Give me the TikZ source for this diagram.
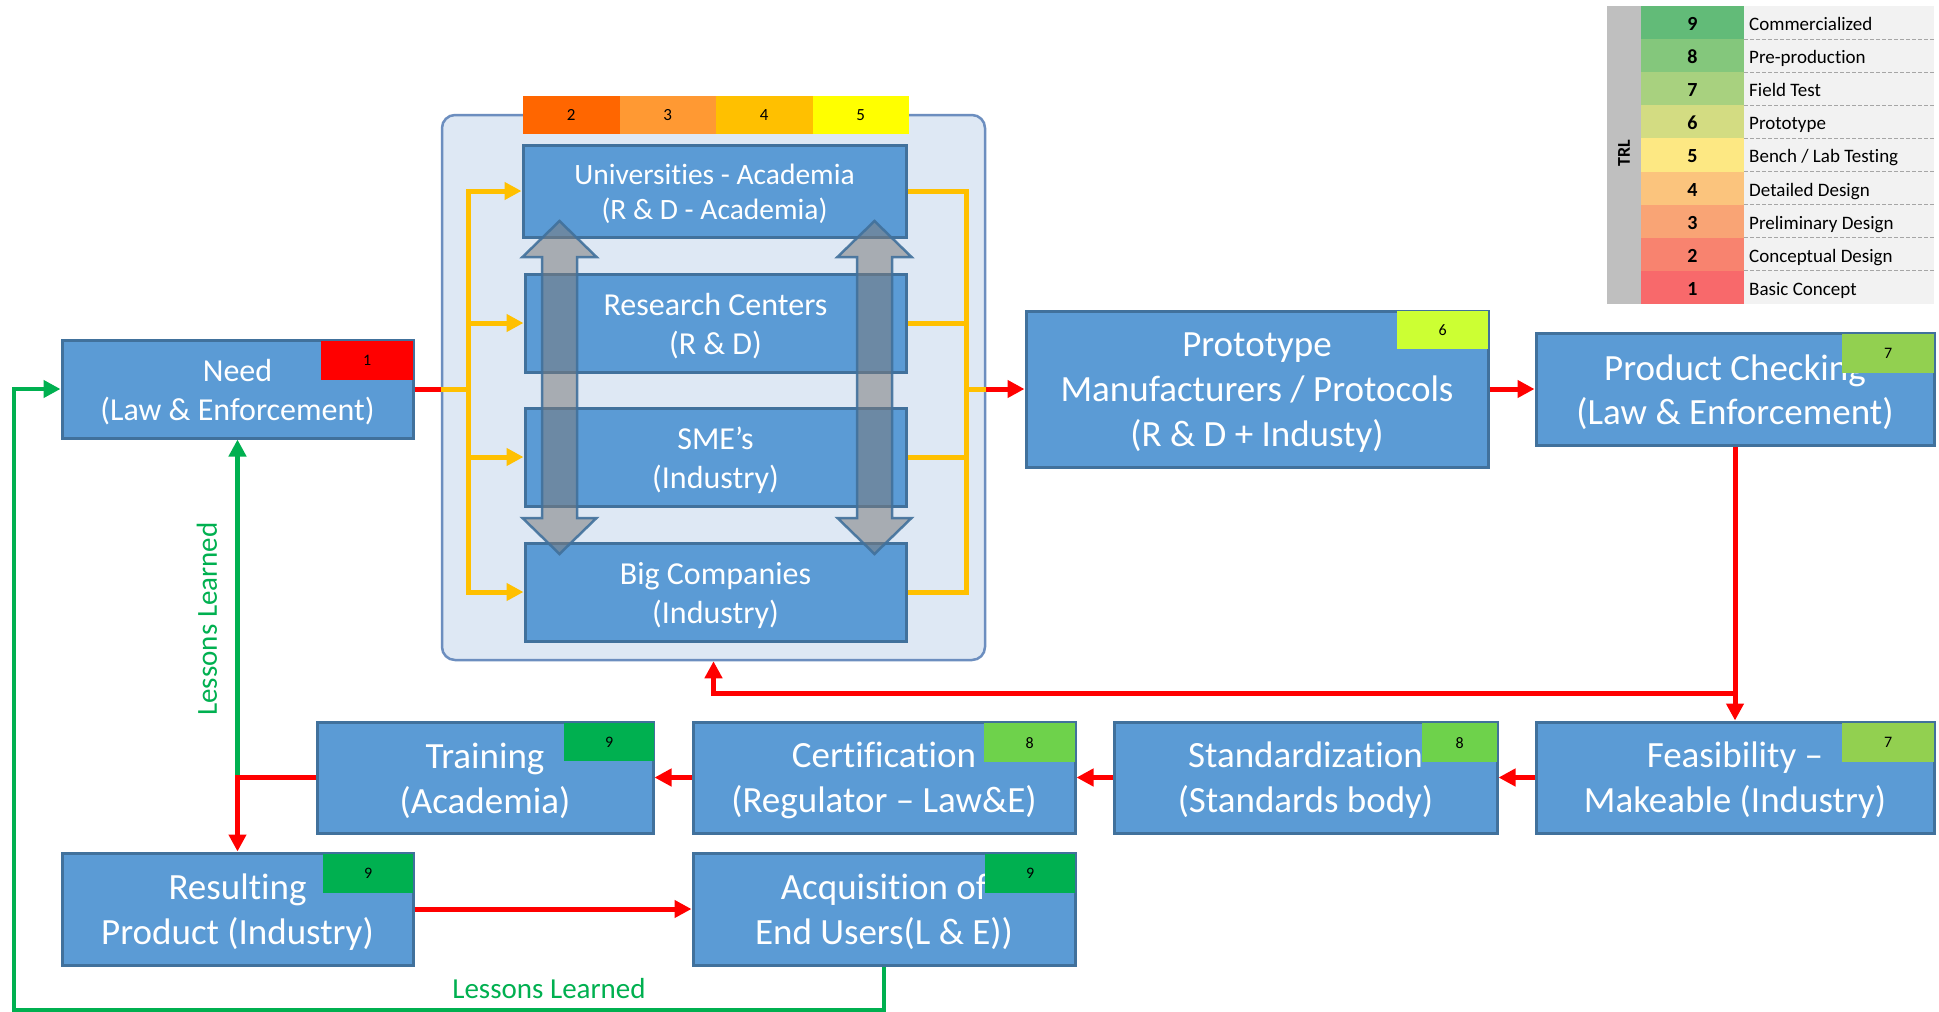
\documentclass[tikz,border=0pt]{standalone}
\usepackage{fontspec}
\setmainfont{Carlito}[Ligatures={TeX,NoCommon}]
\usetikzlibrary{arrows.meta}
\newcommand\boxstrut{\rule{0pt}{\dimexpr0.7em+6pt\relax}}
\definecolor{boxfill}{HTML}{5B9BD5}
\definecolor{boxline}{HTML}{41719C}
\definecolor{contfill}{HTML}{DEE8F4}
\definecolor{contline}{HTML}{6C8EBF}
\definecolor{orng}{HTML}{FFC000}
\definecolor{lgreen}{HTML}{00B050}
\definecolor{bartwo}{HTML}{FF6600}
\definecolor{barthree}{HTML}{FF9933}
\definecolor{barfour}{HTML}{FFC000}
\definecolor{barfive}{HTML}{FFFF00}
\definecolor{bsix}{HTML}{CCFF33}
\definecolor{bseven}{HTML}{92D050}
\definecolor{beight}{HTML}{6ED24B}
\definecolor{bnine}{HTML}{00B050}
\definecolor{grayarrow}{HTML}{7B7B7C}
\definecolor{trlgray}{HTML}{BFBFBF}
\definecolor{ltgray}{HTML}{F2F2F2}
\definecolor{lnine}{HTML}{62BB78}
\definecolor{leight}{HTML}{84C77C}
\definecolor{lseven}{HTML}{A8D17F}
\definecolor{lsix}{HTML}{D3DC82}
\definecolor{lfive}{HTML}{FDE883}
\definecolor{lfour}{HTML}{FBC47D}
\definecolor{lthree}{HTML}{F9A475}
\definecolor{ltwo}{HTML}{F8836F}
\definecolor{lone}{HTML}{F8696B}
\tikzset{
  box/.style={draw=boxline, line width=3pt, fill=boxfill, text=white, align=center, inner sep=0pt},
  fbig/.style={font=\fontsize{37}{45}\selectfont},
  fpc/.style={font=\fontsize{37}{44.5}\selectfont},
  fmid/.style={font=\fontsize{32}{39.5}\selectfont},
  fsmall/.style={font=\fontsize{29.5}{35}\selectfont},
  finner/.style={font=\fontsize{32}{39}\selectfont},
  badge/.style={inner sep=0pt, anchor=north west, text=black, font=\fontsize{16}{16}\selectfont},
  barcell/.style={inner sep=0pt, minimum width=96.5pt, minimum height=38pt, text=black, font=\fontsize{17}{17}\selectfont},
  redl/.style={line width=5pt, draw=red},
  orl/.style={line width=5pt, draw=orng},
  grl/.style={line width=4.5pt, draw=lgreen},
  tip/.style={-{Triangle[length=17pt,width=17pt]}},
  lltext/.style={text=lgreen, inner sep=0pt, font=\fontsize{29}{29}\selectfont},
  garrow/.style={fill=grayarrow, fill opacity=0.55, draw=boxline, draw opacity=0.9, line width=2.5pt, line join=miter},
  legnum/.style={anchor=base, inner sep=0pt, font=\bfseries\fontsize{20}{20}\selectfont},
  legtxt/.style={anchor=base west, inner sep=0pt, font=\fontsize{19}{19}\selectfont},
}
\begin{document}
\begin{tikzpicture}[x=1pt,y=-1pt]
\useasboundingbox[fill=white] (0,0) rectangle (1939,1012);

% container
\node[draw=contline, line width=2.5pt, fill=contfill, rounded corners=13pt,
      minimum width=543pt, minimum height=545pt, inner sep=0pt] (cont) at (713.5,387.5) {};

% TRL bar above container
\node[barcell, fill=bartwo]   (b2) at (571.25,115) {2};
\node[barcell, fill=barthree] (b3) at (667.75,115) {3};
\node[barcell, fill=barfour]  (b4) at (764.25,115) {4};
\node[barcell, fill=barfive]  (b5) at (860.75,115) {5};

% inner boxes
\node[box, fsmall, minimum width=383pt, minimum height=92pt] (univ) at (714.5,191) {\boxstrut Universities - Academia\\(R \& D - Academia)};
\node[box, finner, minimum width=381pt, minimum height=98pt] (rc) at (715.5,323) {\boxstrut Research Centers\\(R \& D)};
\node[box, finner, minimum width=381pt, minimum height=98pt] (sme) at (715.5,457) {\boxstrut SME’s\\(Industry)};
\node[box, finner, minimum width=381pt, minimum height=98pt] (big) at (715.5,592) {\boxstrut Big Companies\\(Industry)};

% gray double arrows
\draw[garrow] (559.5,221) -- (596.5,257) -- (577,257) -- (577,518) -- (596.5,518) -- (559.5,554)
  -- (522.5,518) -- (542,518) -- (542,257) -- (522.5,257) -- cycle;
\draw[garrow] (874.5,221) -- (911.5,257) -- (892,257) -- (892,518) -- (911.5,518) -- (874.5,554)
  -- (837.5,518) -- (857,518) -- (857,257) -- (837.5,257) -- cycle;

% main boxes
\node[box, fmid, minimum width=351pt, minimum height=98pt] (need) at (237.5,389) {\boxstrut Need\\(Law \& Enforcement)};
\node[box, fbig, minimum width=462pt, minimum height=156pt] (proto) at (1257,389) {\boxstrut Prototype\\Manufacturers / Protocols\\(R \& D + Industy)};
\node[box, fpc, minimum width=398pt, minimum height=112pt] (pc) at (1735,389) {\boxstrut Product Checking\\(Law \& Enforcement)};
\node[box, fbig, minimum width=398pt, minimum height=111pt] (feas) at (1735,777.5) {\boxstrut Feasibility –\\Makeable (Industry)};
\node[box, fbig, minimum width=383pt, minimum height=111pt] (std) at (1305.5,777.5) {\boxstrut Standardization\\(Standards body)};
\node[box, fbig, minimum width=382pt, minimum height=111pt] (cert) at (884,777.5) {\boxstrut Certification\\(Regulator – Law\&E)};
\node[box, fbig, minimum width=336pt, minimum height=111pt] (train) at (485,777.5) {\boxstrut Training\\(Academia)};
\node[box, fbig, minimum width=351pt, minimum height=112pt] (res) at (237.5,909) {\boxstrut Resulting\\Product (Industry)};
\node[box, fbig, minimum width=382pt, minimum height=112pt] (acq) at (884,909) {\boxstrut Acquisition of\\End Users(L \& E))};

% badges
\node[badge, fill=red,    minimum width=92pt, minimum height=39pt] (needb)  at (321,341) {1};
\node[badge, fill=bsix,   minimum width=91pt, minimum height=38pt] (protob) at (1397,311) {6};
\node[badge, fill=bseven, minimum width=92pt, minimum height=39pt] (pcb)    at (1842,334) {7};
\node[badge, fill=bseven, minimum width=92pt, minimum height=39pt] (feasb)  at (1842,723) {7};
\node[badge, fill=beight, minimum width=75pt, minimum height=39pt] (stdb)   at (1422,723) {8};
\node[badge, fill=beight, minimum width=91pt, minimum height=39pt] (certb)  at (984,723) {8};
\node[badge, fill=bnine,  minimum width=90pt, minimum height=38pt] (trainb) at (564,723) {9};
\node[badge, fill=bnine,  minimum width=90pt, minimum height=39pt] (resb)   at (323,854) {9};
\node[badge, fill=bnine,  minimum width=90pt, minimum height=39pt] (acqb)   at (985,854) {9};

% helper coordinates
\coordinate (lcol) at (468,389);
\coordinate (rcol) at (966,389);
\coordinate (br) at (1735,693);
\coordinate (gl) at (14,1010);
\coordinate (jn) at (237.5,777.5);

% left side: need -> academic boxes
\draw[redl] (need.east) -- (cont.west |- need.east);
\draw[orl] (cont.west |- need.east) -- (lcol);
\draw[orl, tip] (lcol |- rc.west) -- (lcol |- univ.west) -- (univ.west);
\draw[orl, tip] (lcol |- sme.west) -- (lcol |- big.west) -- (big.west);
\draw[orl, tip] (lcol |- rc.west) -- (rc.west);
\draw[orl, tip] (lcol |- sme.west) -- (sme.west);
\draw[orl] (lcol |- rc.west) -- (lcol |- sme.west);

% right side: academic boxes -> prototype
\draw[orl] (univ.east) -- (rcol |- univ.east) -- (rcol |- rc.east);
\draw[orl] (big.east) -- (rcol |- big.east) -- (rcol |- sme.east);
\draw[orl] (rc.east) -- (rcol |- rc.east) -- (rcol |- sme.east) -- (sme.east);
\draw[orl] (rcol) -- (cont.east |- rcol);
\draw[redl, tip] (cont.east |- rcol) -- (proto.west);

% main flow
\draw[redl, tip] (proto.east) -- (pc.west);
\draw[redl, tip] (pc.south) -- (feas.north);
\draw[redl, tip] (br) -| (cont.south);
\draw[redl, tip] (feas.west) -- (std.east);
\draw[redl, tip] (std.west) -- (cert.east);
\draw[redl, tip] (cert.west) -- (train.east);

% lessons learned (green)
\draw[grl, tip] (jn) -- (need.south);
\draw[grl, tip] (acq.south) |- (gl) |- (need.west);

\draw[redl, tip] (train.west) -| (res.north);
\draw[redl, tip] (res.east) -- (acq.west);

\node[lltext, rotate=90] (ll1) at (207,619) {Lessons Learned};
\node[lltext] (ll2) at (549,989) {Lessons Learned};

% TRL legend
\fill[trlgray] (1607,6) rectangle (1641,304);
\node[inner sep=0pt, rotate=90, font=\bfseries\fontsize{18}{18}\selectfont] (trl) at (1624,153) {TRL};
\foreach \n/\c/\t in {9/lnine/{Commercialized}, 8/leight/{Pre-production}, 7/lseven/{Field Test},
  6/lsix/{Prototype}, 5/lfive/{Bench / Lab Testing}, 4/lfour/{Detailed Design},
  3/lthree/{Preliminary Design}, 2/ltwo/{Conceptual Design}, 1/lone/{Basic Concept}}{
  \pgfmathsetmacro\yt{6+(9-\n)*33.11}
  \fill[\c] (1641,\yt) rectangle (1744,\yt+33.11);
  \fill[ltgray] (1744,\yt) rectangle (1934,\yt+33.11);
  \node[legnum] (ln\n) at (1692.5,\yt+24.5) {\n};
  \node[legtxt] (lt\n) at (1749,\yt+24.5) {\t};
}
\foreach \k in {1,...,8}{
  \draw[gray!70, line width=1pt, dash pattern=on 4pt off 2pt] (1744,6+\k*33.11) -- (1934,6+\k*33.11);
}
\end{tikzpicture}
\end{document}
